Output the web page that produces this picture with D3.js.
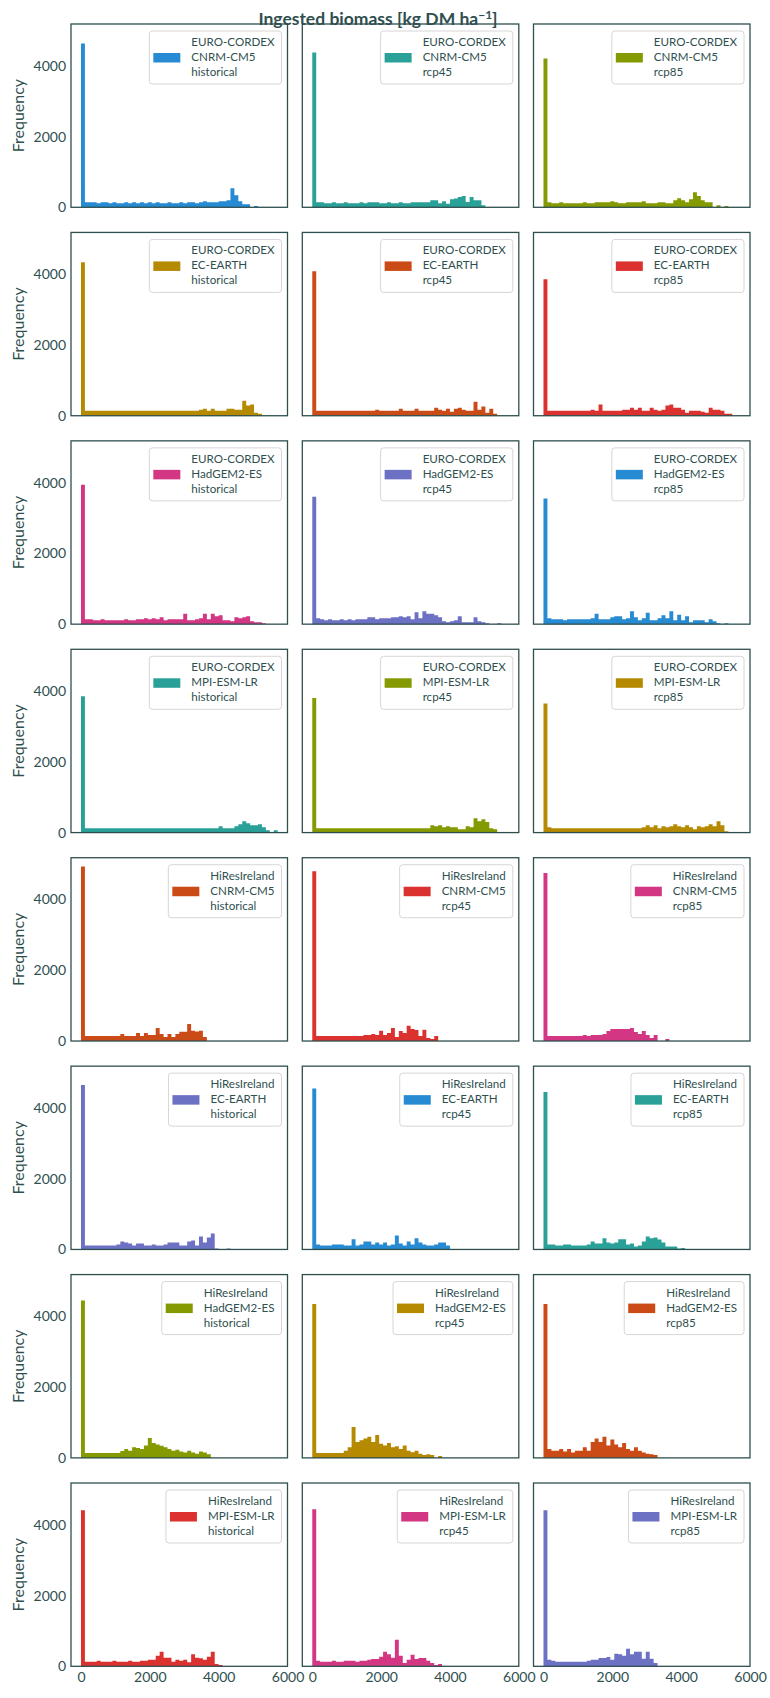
<!DOCTYPE html>
<html>
<head>
<meta charset="utf-8">
<script src="https://cdn.jsdelivr.net/npm/d3@7"></script>
<style>
  body { margin: 0; background: #fff; }
  text { font-family: Lato, "Noto Sans", sans-serif; fill: #2f4f4f; }
</style>
</head>
<body>
<svg id="chart"></svg>
<script>
// histogram counts per panel, 50 shared bins over 0..5714
const binMax = 5714, binCount = 50;

const ecCnrmHistorical = [4630,141,141,141,113,141,141,113,141,113,113,141,113,141,113,141,113,141,113,141,113,113,141,113,113,141,113,141,141,113,141,170,141,141,141,170,170,197,535,338,169,85,85,0,38];
const ecCnrmRcp45 = [4375,141,141,113,113,141,113,113,141,113,113,113,141,113,141,141,141,113,113,141,113,113,141,113,113,141,141,141,141,141,197,197,113,169,100,225,250,290,320,150,290,200,200,60];
const ecCnrmRcp85 = [4206,141,113,113,141,113,113,113,113,113,141,113,113,141,141,141,141,169,141,113,113,141,141,141,141,169,113,113,113,141,141,113,113,197,253,197,141,225,422,320,197,141,141,0,56,0,38];

const ecEcearthHistorical = [4340,141,141,141,141,141,141,141,141,141,141,141,141,141,141,141,141,141,141,141,141,141,141,141,141,141,141,141,141,141,169,197,141,197,141,141,141,197,197,169,169,422,291,320,85,56];
const ecEcearthRcp45 = [4085,141,141,141,141,141,141,141,141,141,141,141,141,141,141,141,169,141,141,141,141,141,197,141,141,141,197,141,141,141,141,225,169,141,197,113,197,225,169,141,141,394,169,263,85,197,56];
const ecEcearthRcp85 = [3860,141,141,141,141,141,141,141,141,141,141,141,169,141,320,141,141,141,141,141,169,169,225,169,225,141,141,225,169,141,169,291,320,225,225,169,85,141,141,141,113,85,225,169,169,141,56,56];

const ecHadgemHistorical = [3940,141,141,113,113,141,113,113,113,113,113,141,113,113,141,141,169,141,169,141,197,113,141,141,141,141,291,113,113,141,169,291,141,291,225,253,113,113,85,197,169,197,225,85,56,56,28];
const ecHadgemRcp45 = [3600,169,141,113,141,113,113,141,113,141,113,141,141,141,197,197,141,169,169,169,197,197,225,197,225,141,338,169,366,291,291,253,197,85,56,85,113,225,56,56,56,197,85,56,28,0,0,28];
const ecHadgemRcp85 = [3550,169,141,141,141,113,141,141,141,141,141,141,169,291,141,141,141,197,225,225,141,169,366,197,113,169,320,113,113,169,253,169,366,113,263,113,225,56,113,113,113,56,141,85,28,0,28];

const ecMpiHistorical = [3850,120,120,120,120,120,120,120,120,120,120,120,120,120,120,120,120,120,120,120,120,120,120,120,120,120,120,120,120,120,120,120,120,120,120,178,120,120,120,178,235,320,263,207,207,235,150,66,0,66];
const ecMpiRcp45 = [3800,120,120,120,120,120,120,120,120,120,120,120,120,120,120,120,120,120,120,120,120,120,120,120,120,120,120,120,120,120,207,178,207,150,178,150,150,94,94,178,150,404,320,376,300,122,94];
const ecMpiRcp85 = [3650,150,120,120,120,120,120,120,120,120,120,120,120,120,120,120,120,120,120,120,120,120,120,120,120,150,207,150,207,122,178,150,178,235,178,150,207,150,94,178,150,178,235,178,320,207,38,19,19];

const hrCnrmHistorical = [4930,141,141,141,141,141,141,141,141,141,197,141,141,141,225,141,225,169,169,366,197,113,197,113,197,263,263,479,291,272,291,113];
const hrCnrmRcp45 = [4800,141,141,141,141,141,141,141,141,141,141,141,141,169,169,197,169,291,169,225,366,113,282,225,432,338,310,141,320,85,56,141];
const hrCnrmRcp85 = [4750,141,141,141,141,141,141,141,141,141,169,141,169,169,169,197,282,338,338,338,338,338,366,253,197,282,169,85,169,0,0,56];

const hrEcearthHistorical = [4650,113,113,113,113,113,113,113,113,141,225,197,169,113,169,169,113,113,141,113,113,141,197,197,197,113,113,225,253,113,366,197,338,451,28,10,0,28];
const hrEcearthRcp45 = [4550,141,113,113,113,141,141,141,113,113,291,113,141,225,225,141,197,141,197,113,141,394,169,113,225,141,320,197,141,113,113,141,197,197,113];
const hrEcearthRcp85 = [4450,141,141,113,113,141,141,113,113,113,113,141,225,169,169,320,197,169,197,291,291,141,169,85,113,225,366,320,338,282,197,85,85,85,28,38];

const hrHadgemHistorical = [4450,141,141,141,141,141,141,141,141,141,197,250,200,300,280,250,350,560,420,380,340,300,250,200,230,180,150,200,150,120,180,150,100];
const hrHadgemRcp45 = [4350,141,141,141,141,141,141,141,200,300,870,450,500,550,600,450,650,400,350,420,300,330,250,350,200,160,200,120,80,100,80,0,50];
const hrHadgemRcp85 = [4350,250,200,200,250,180,250,150,200,200,300,200,450,550,450,600,350,520,380,300,420,250,200,300,200,150,120,100,80];

const hrMpiHistorical = [4413,131,131,131,160,131,131,131,160,131,131,131,160,131,131,160,160,188,188,300,413,244,244,131,188,160,188,113,338,244,225,188,272,413,66,38];
const hrMpiRcp45 = [4441,160,131,131,131,160,131,131,160,160,160,131,160,160,188,207,207,272,413,338,244,751,300,94,188,329,207,235,235,160,94,38,66];
const hrMpiRcp85 = [4413,188,160,131,131,131,131,131,131,131,131,160,188,188,235,235,263,188,357,338,300,498,338,413,413,216,413,216,94];

const sources = ["EURO-CORDEX", "HiResIreland"];
const models = ["CNRM-CM5", "EC-EARTH", "HadGEM2-ES", "MPI-ESM-LR"];
const scenarios = ["historical", "rcp45", "rcp85"];
const xTicks = [0, 2000, 4000, 6000];
const yTicks = [0, 2000, 4000];
const palette = ["#268bd2", "#2aa198", "#859900", "#b58900", "#cb4b16", "#dc322f", "#d33682", "#6c71c4"];

const countRows = [
  [ecCnrmHistorical, ecCnrmRcp45, ecCnrmRcp85],
  [ecEcearthHistorical, ecEcearthRcp45, ecEcearthRcp85],
  [ecHadgemHistorical, ecHadgemRcp45, ecHadgemRcp85],
  [ecMpiHistorical, ecMpiRcp45, ecMpiRcp85],
  [hrCnrmHistorical, hrCnrmRcp45, hrCnrmRcp85],
  [hrEcearthHistorical, hrEcearthRcp45, hrEcearthRcp85],
  [hrHadgemHistorical, hrHadgemRcp45, hrHadgemRcp85],
  [hrMpiHistorical, hrMpiRcp45, hrMpiRcp85]
];

let w = 770, h = 1698;
let ink = "#2f4f4f";
let colLeft = [71, 302.3, 533.5], panelW = 216.5, panelH = 183.3;
let rowTop0 = 24, rowStep = 208.43;

let svg = d3.select("#chart").attr("width", w).attr("height", h);

let x = d3.scaleLinear().domain([-290, 6000]).range([0, panelW]);
let y = d3.scaleLinear().domain([0, 5180]).range([panelH, 0]);
let binW = binMax / binCount;

let area = d3.area()
  .curve(d3.curveStepAfter)
  .x(d => x(d[0]))
  .y0(y(0))
  .y1(d => y(d[1]));

svg.append("text")
  .attr("x", 378).attr("y", 25)
  .attr("text-anchor", "middle")
  .style("font-size", "17.5px").style("font-weight", "bold")
  .call(t => {
    t.append("tspan").text("Ingested biomass [kg DM ha");
    t.append("tspan").attr("dy", -6).style("font-size", "12px").text("\u22121");
    t.append("tspan").attr("dy", 6).text("]");
  });

countRows.forEach((row, r) => {
  row.forEach((counts, c) => {
    let idx = r * 3 + c;
    let g = svg.append("g")
      .attr("transform", `translate(${colLeft[c]},${rowTop0 + r * rowStep})`);

    let pts = counts.map((v, i) => [i * binW, v]);
    pts.push([counts.length * binW, counts[counts.length - 1]]);

    g.append("path")
      .attr("d", area(pts))
      .attr("fill", palette[idx % palette.length]);

    g.append("rect")
      .attr("width", panelW).attr("height", panelH)
      .attr("fill", "none").attr("stroke", ink).attr("stroke-width", 1.3);

    if (c === 0) {
      let ay = g.append("g").call(d3.axisLeft(y).tickValues(yTicks).tickSize(0).tickPadding(5).tickFormat(d3.format("d")));
      ay.select(".domain").remove();
      ay.selectAll("text").style("font-size", "14px").style("font-family", null).attr("fill", ink);
      g.append("text")
        .attr("transform", `translate(-47,${panelH / 2}) rotate(-90)`)
        .attr("text-anchor", "middle")
        .style("font-size", "16px")
        .text("Frequency");
    }
    if (r === countRows.length - 1) {
      let ax = g.append("g").attr("transform", `translate(0,${panelH})`)
        .call(d3.axisBottom(x).tickValues(xTicks).tickSize(0).tickPadding(6).tickFormat(d3.format("d")));
      ax.select(".domain").remove();
      ax.selectAll("text").style("font-size", "14px").style("font-family", null).attr("fill", ink);
    }

    // legend
    let lines = [sources[Math.floor(r / 4)], models[r % 4], scenarios[c]];
    let lg = g.append("g");
    let box = lg.append("rect");
    let texts = lg.selectAll("text.lbl").data(lines).enter().append("text")
      .attr("class", "lbl")
      .attr("y", (d, i) => 15 + i * 15)
      .style("font-size", "11.6px")
      .text(d => d);
    let tw = d3.max(texts.nodes(), n => n.getComputedTextLength());
    let bw = tw + 49, bh = 53;
    let bx = panelW - 6 - bw, by = 7;
    lg.attr("transform", `translate(${bx},${by})`);
    texts.attr("x", 42);
    box.attr("width", bw).attr("height", bh).attr("rx", 3)
      .attr("fill", "white").attr("fill-opacity", 0.8)
      .attr("stroke", "#d6d6d6").attr("stroke-width", 1);
    lg.append("rect")
      .attr("x", 4).attr("y", 22).attr("width", 27).attr("height", 9.5)
      .attr("fill", palette[idx % palette.length]);
  });
});
</script>
</body>
</html>
